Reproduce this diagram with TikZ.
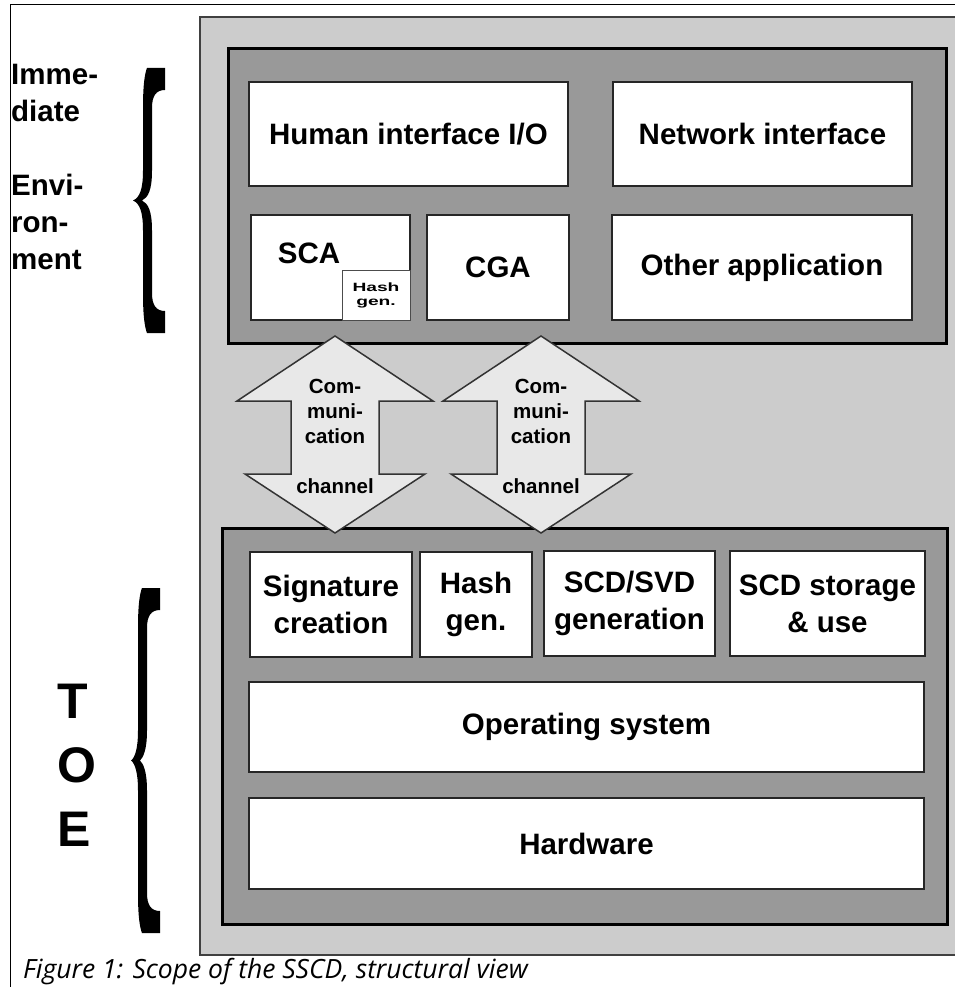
\documentclass[tikz,border=0pt]{standalone}
\usepackage{fontspec}
\setmainfont{Liberation Sans}
\newfontfamily\capfont{Open Sans}
\usepackage{xcolor}
\usetikzlibrary{calc}
\definecolor{panelgray}{gray}{0.8}
\definecolor{layergray}{gray}{0.6}
\definecolor{arrowgray}{gray}{0.91}
% filled curly brace: #1 right x, #2 top y, #3 bottom y, #4 tip x
\newcommand{\curly}[4]{%
	\pgfmathsetmacro{\M}{(#2+#3)/2}%
	\pgfmathsetmacro{\bl}{#1-22}%
	\pgfmathsetmacro{\br}{#1-13}%
	\fill (#1-18,#2) -- (#1,#2) -- (#1,#2+22) .. controls (#1-9,#2+22) and (\br,#2+28) .. (\br,#2+40)
	-- (\br,\M-30) .. controls (\br,\M-10) and (\br-4,\M-3) .. (#4+9,\M)
	.. controls (\br-4,\M+3) and (\br,\M+10) .. (\br,\M+30)
	-- (\br,#3-40) .. controls (\br,#3-28) and (#1-9,#3-22) .. (#1,#3-22) -- (#1,#3) -- (#1-18,#3)
	.. controls (\bl+2,#3-5) and (\bl,#3-15) .. (\bl,#3-40)
	-- (\bl,\M+30) .. controls (\bl,\M+12) and (\bl-3,\M+3) .. (#4,\M)
	.. controls (\bl-3,\M-3) and (\bl,\M-12) .. (\bl,\M-30)
	-- (\bl,#2+40) .. controls (\bl,#2+15) and (\bl+2,#2+5) .. (#1-18,#2) -- cycle;%
}

\begin{document}
\begin{tikzpicture}[x=1pt,y=-1pt,
	layer/.style={draw=black,line width=3pt,fill=layergray,inner sep=0pt},
	part/.style={draw=black!85,line width=2.5pt,fill=white,align=center,inner sep=0pt,
		font=\fontsize{29.5}{37}\selectfont\bfseries},
	chan/.style={draw=black!80,line width=1.5pt,fill=arrowgray},
	chantext/.style={align=center,inner sep=0pt,font=\fontsize{20.5}{25}\selectfont\bfseries},
	sidetext/.style={align=left,inner sep=0pt,font=\bfseries}]
	\useasboundingbox (0,0) rectangle (954,987);
	\draw[line width=1pt] (10,995) -- (10,5) -- (960,5);
	\draw[fill=panelgray,draw=black!75,line width=1.2pt] (200,17) rectangle (960,955);
	
	% the two layers
	\node[layer,minimum width=718pt,minimum height=294pt] (env) at (587,196) {};
	\node[layer,minimum width=725pt,minimum height=396pt] (toe) at (584.5,726) {};
	
	% immediate environment
	\node[part,minimum width=319pt,minimum height=104pt] (hio) at (408.5,134) {Human interface I/O};
	\node[part,minimum width=299pt,minimum height=104pt] (net) at (762.5,134) {Network interface};
	\node[part,minimum width=159pt,minimum height=105pt] (sca) at (330.5,267.5) {};
	\node[font=\fontsize{29.5}{37}\selectfont\bfseries,inner sep=0pt] (scalbl) at (309,253) {SCA};
	\node[draw=black!70,line width=1pt,fill=white,minimum width=68pt,minimum height=50pt,inner sep=0pt,
		align=center,font=\fontsize{12}{14}\selectfont\bfseries] (scahash) at (376,295)
		{\scalebox{1.6}[1]{Hash}\\\scalebox{1.6}[1]{gen.}};
	\node[part,minimum width=142pt,minimum height=105pt] (cga) at (498,267.5) {CGA};
	\node[part,minimum width=300pt,minimum height=105pt] (other) at (762,267.5) {Other application};
	
	% TOE
	\node[part,minimum width=162pt,minimum height=105pt] (sig) at (331,604.5) {Signature\\creation};
	\node[part,minimum width=112pt,minimum height=105pt] (hash) at (476,604.5) {Hash\\gen.};
	\node[part,minimum width=171pt,minimum height=105pt] (keygen) at (629.5,603.5) {SCD/SVD\\generation};
	\node[part,minimum width=195pt,minimum height=105pt] (store) at (827.5,603.5) {SCD storage\\\& use};
	\node[part,minimum width=675pt,minimum height=90pt] (os) at (586.5,727) {Operating system};
	\node[part,minimum width=675pt,minimum height=91pt] (hw) at (586.5,843.5) {Hardware};
	
	% communication channels
	\foreach \cx/\n in {335/1,541/2}{
		\draw[chan] (\cx,336) -- (\cx+98,401) -- (\cx+44,401) -- (\cx+44,474) -- (\cx+90,474)
		-- (\cx,533) -- (\cx-90,474) -- (\cx-44,474) -- (\cx-44,401) -- (\cx-98,401) -- cycle;
		\node[chantext] (chan\n) at (\cx,436) {Com-\\muni-\\cation\\[25pt]channel};
	}
	
	% side labels
	\node[sidetext,anchor=north west,font=\fontsize{29.5}{37}\selectfont\bfseries] (envlbl) at (11,64.5)
		{Imme-\\diate\\[37pt]Envi-\\ron-\\ment};
	\curly{165}{68}{333}{133}
	\node[sidetext,anchor=north west,font=\fontsize{50}{64}\selectfont\bfseries] (toelbl) at (57,684)
		{T\\O\\E};
	\curly{160}{588}{933}{131}
	
	\node[anchor=base west,inner sep=0pt,font=\capfont\itshape\fontsize{26.5}{26.5}\selectfont] (caption) at (23,978)
		{Figure 1: Scope of the SSCD, structural view};
\end{tikzpicture}
\end{document}
